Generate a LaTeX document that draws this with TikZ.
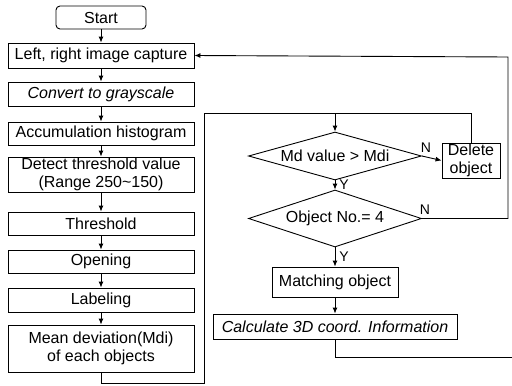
\documentclass[tikz,border=0pt]{standalone}
\usepackage{fontspec}
\setmainfont{Liberation Sans}
\usetikzlibrary{shapes.geometric,arrows.meta}
\tikzset{
  base/.style={draw, line width=0.9pt, inner sep=0pt, align=center, font=\fontsize{16}{18.5}\selectfont},
  pbox/.style={base, rectangle, minimum width=186pt},
  startbox/.style={base, rectangle, rounded corners=4pt},
  ln/.style={line width=0.9pt},
  arr/.style={ln, -{Latex[length=6pt,width=5pt]}},
  lbl/.style={font=\fontsize{14}{16}\selectfont, inner sep=0pt}
}
\begin{document}
\begin{tikzpicture}[x=1pt,y=-1pt]
\useasboundingbox (0,0) rectangle (512,386);
% left column
\node[startbox, minimum width=90pt, minimum height=23pt] (start) at (101,17.5) {Start};
\node[pbox, minimum height=25pt] (lr) at (101,55.5) {Left, right image capture};
\node[pbox, minimum height=24pt] (gray) at (101,94) {\itshape Convert to grayscale};
\node[pbox, minimum height=23pt] (acc) at (101,133.5) {Accumulation histogram};
\node[pbox, minimum height=35pt] (det) at (101,174.5) {Detect threshold value\\(Range 250\textasciitilde150)};
\node[pbox, minimum height=23pt] (thr) at (101,223.5) {Threshold};
\node[pbox, minimum height=23pt] (open) at (101,261.5) {Opening};
\node[pbox, minimum height=24pt] (lab) at (101,300) {Labeling};
\node[pbox, minimum height=47pt] (mean) at (101,348.5) {Mean deviation(Mdi)\\of each objects};
\draw[arr] (start) -- (lr);
\draw[arr] (lr) -- (gray);
\draw[arr] (gray) -- (acc);
\draw[arr] (acc) -- (det);
\draw[arr] (det) -- (thr);
\draw[arr] (thr) -- (open);
\draw[arr] (open) -- (lab);
\draw[arr] (lab) -- (mean);
% right part
\node[base, diamond, minimum width=173pt, minimum height=48pt, aspect=3.6] (d1) at (335,156) {Md value > Mdi};
\node[base, diamond, minimum width=173pt, minimum height=57pt, aspect=3.0] (d2) at (335,218.5) {Object No.= 4};
\node[base, rectangle, minimum width=58pt, minimum height=35pt] (del) at (471,160.5) {Delete\\object};
\node[base, rectangle, minimum width=126pt, minimum height=30pt] (match) at (335,282) {Matching object};
\node[base, rectangle, minimum width=244pt, minimum height=25pt] (calc) at (335,326.5) {\itshape Calculate 3D coord. Information};
\coordinate (jn) at (335,113);
\coordinate (rt) at (512,357);
% loop from mean deviation
\draw[ln] (mean.south) -- (101,383) -| (204,113) -| (del.north);
\draw[arr] (jn) -- (d1.north);
\draw[arr] (d1.east) -- (del.west) node[lbl, pos=0.2, above=4pt] {N};
\draw[arr] (d1.south) -- (d2.north) node[lbl, midway, right=4pt] {Y};
\draw[arr] (d2.east) -- (508,218.5) -- (508,57) -- (lr.east);
\node[lbl] at (425,210) {N};
\draw[arr] (d2.south) -- (match.north) node[lbl, midway, right=4pt] {Y};
\draw[arr] (match) -- (calc);
\draw[ln] (calc.south) -- (335,357) -- (rt);
\end{tikzpicture}
\end{document}
